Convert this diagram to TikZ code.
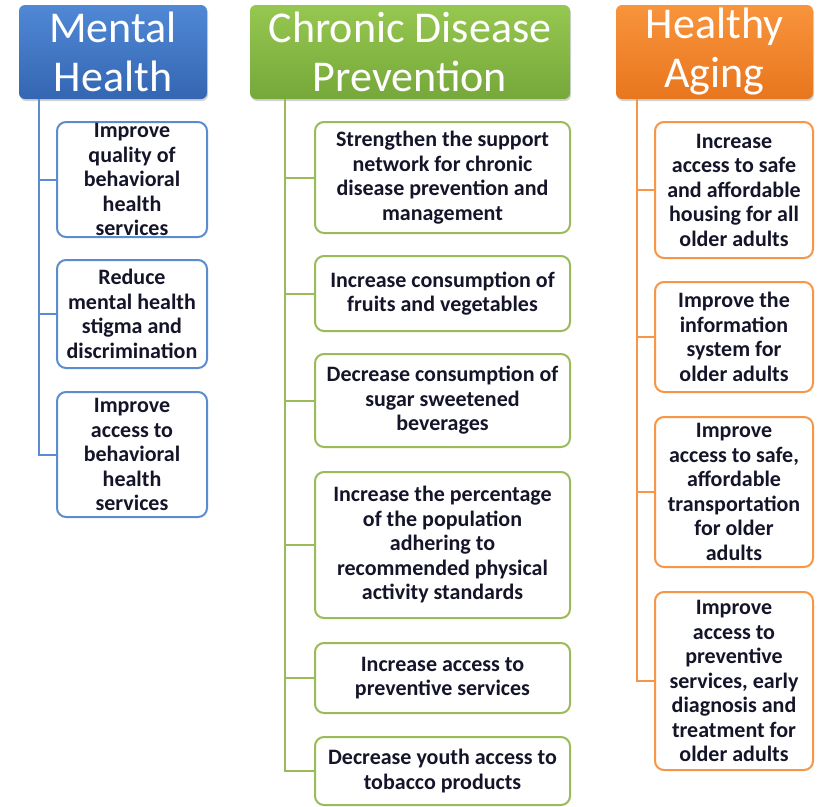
\documentclass[tikz,border=0pt]{standalone}
\usepackage{fontspec}
\setmainfont{Carlito}
\usetikzlibrary{shadows}

\definecolor{mhblue}{HTML}{5B8CD0}
\definecolor{cdgreen}{HTML}{9BBB59}
\definecolor{haorange}{HTML}{F79646}
\definecolor{itemtext}{HTML}{15152A}

\begin{document}
\begin{tikzpicture}[x=1pt,y=-1pt,
    head/.style={rounded corners=6pt, minimum height=94pt, inner sep=0pt,
        text=white, align=center, font=\fontsize{44}{49}\selectfont,
        drop shadow={opacity=0.35, shadow xshift=1pt, shadow yshift=-2pt}},
    item/.style={draw, line width=2pt, rounded corners=9pt, fill=white,
        inner sep=0pt, align=center, text=itemtext,
        font=\bfseries\fontsize{22}{24.5}\selectfont},
    mhbox/.style={item, draw=mhblue, minimum width=150pt},
    cdbox/.style={item, draw=cdgreen, minimum width=255pt},
    habox/.style={item, draw=haorange, minimum width=158pt},
    mhline/.style={draw=mhblue, line width=2pt},
    cdline/.style={draw=cdgreen, line width=2pt},
    haline/.style={draw=haorange, line width=2pt}]

    \useasboundingbox (0,0) rectangle (821,806);

    % these are the headers
    \node[head, minimum width=188pt, top color={rgb,255:red,80;green,136;blue,214}, bottom color={rgb,255:red,52;green,102;blue,178}] (mh) at (113,52) {Mental\\Health};
    \node[head, minimum width=320pt, top color={rgb,255:red,150;green,199;blue,80}, bottom color={rgb,255:red,118;green,168;blue,58}] (cd) at (410,52) {Chronic Disease\\Prevention};
    \node[head, minimum width=197pt, top color={rgb,255:red,248;green,148;blue,60}, bottom color={rgb,255:red,232;green,118;blue,30}] (ha) at (714.5,52) {Healthy\\Aging};

    % these are the goals
    \node[mhbox, minimum height=115pt] (mh1) at (132,179.5) {Improve\\quality of\\behavioral\\health\\services};
    \node[mhbox, minimum height=108pt] (mh2) at (132,314) {Reduce\\mental health\\stigma and\\discrimination};
    \node[mhbox, minimum height=125pt] (mh3) at (132,454.5) {Improve\\access to\\behavioral\\health\\services};

    \node[cdbox, minimum height=111pt] (cd1) at (442.5,177.5) {Strengthen the support\\network for chronic\\disease prevention and\\management};
    \node[cdbox, minimum height=75pt] (cd2) at (442.5,293.5) {Increase consumption of\\fruits and vegetables};
    \node[cdbox, minimum height=93pt] (cd3) at (442.5,400.5) {Decrease consumption of\\sugar sweetened\\beverages};
    \node[cdbox, minimum height=146pt] (cd4) at (442.5,545) {Increase the percentage\\of the population\\adhering to\\recommended physical\\activity standards};
    \node[cdbox, minimum height=70pt] (cd5) at (442.5,678) {Increase access to\\preventive services};
    \node[cdbox, minimum height=68pt] (cd6) at (442.5,771) {Decrease youth access to\\tobacco products};

    \node[habox, minimum height=136pt] (ha1) at (734,190) {Increase\\access to safe\\and affordable\\housing for all\\older adults};
    \node[habox, minimum height=110pt] (ha2) at (734,337) {Improve the\\information\\system for\\older adults};
    \node[habox, minimum height=150pt] (ha3) at (734,492) {Improve\\access to safe,\\affordable\\transportation\\for older\\adults};
    \node[habox, minimum height=178pt] (ha4) at (734,681) {Improve\\access to\\preventive\\services, early\\diagnosis and\\treatment for\\older adults};

    % these are the trunks
    \coordinate (mhtop) at (39,99);
    \coordinate (cdtop) at (285,99);
    \coordinate (hatop) at (637,99);

    \draw[mhline] (mhtop) |- (mh1.west);
    \draw[mhline] (mhtop) |- (mh2.west);
    \draw[mhline] (mhtop) |- (mh3.west);

    \draw[cdline] (cdtop) |- (cd1.west);
    \draw[cdline] (cdtop) |- (cd2.west);
    \draw[cdline] (cdtop) |- (cd3.west);
    \draw[cdline] (cdtop) |- (cd4.west);
    \draw[cdline] (cdtop) |- (cd5.west);
    \draw[cdline] (cdtop) |- (cd6.west);

    \draw[haline] (hatop) |- (ha1.west);
    \draw[haline] (hatop) |- (ha2.west);
    \draw[haline] (hatop) |- (ha3.west);
    \draw[haline] (hatop) |- (ha4.west);

\end{tikzpicture}
\end{document}
